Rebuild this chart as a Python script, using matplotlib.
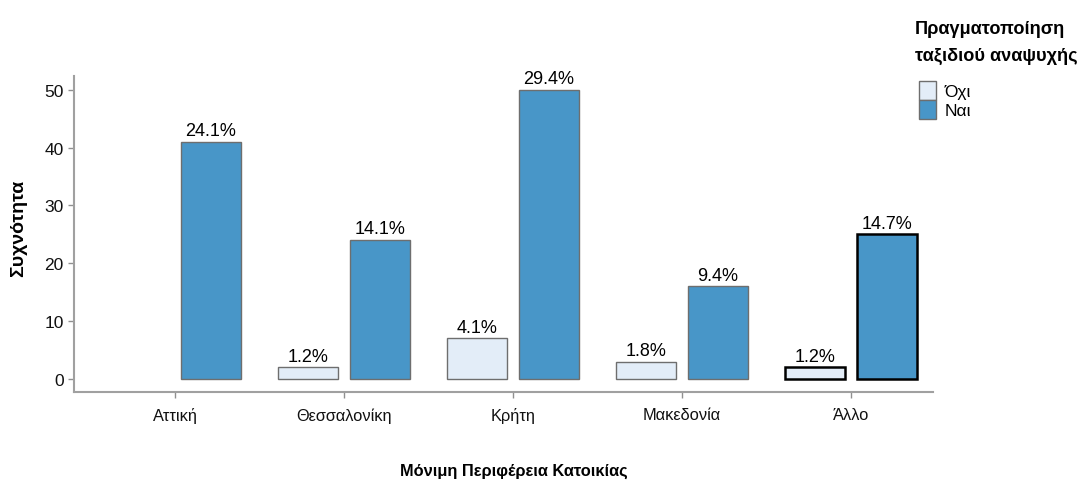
import matplotlib
matplotlib.use("Agg")
import matplotlib.pyplot as plt
from matplotlib.patches import Patch
import numpy as np

plt.rcParams['font.family'] = ['Liberation Sans Narrow', 'Liberation Sans', 'DejaVu Sans']

categories = ["Αττική", "Θεσσαλονίκη", "Κρήτη", "Μακεδονία", "Άλλο"]
series_names = ["Όχι", "Ναι"]
counts_ochi = [0, 2, 7, 3, 2]
counts_nai = [41, 24, 50, 16, 25]
labels_ochi = ["", "1.2%", "4.1%", "1.8%", "1.2%"]
labels_nai = ["24.1%", "14.1%", "29.4%", "9.4%", "14.7%"]
yticks = [0, 10, 20, 30, 40, 50]
legend_title = ["Πραγματοποίηση", "ταξιδιού αναψυχής"]

col_ochi = "#e3edf8"
col_nai = "#4896c8"

fig = plt.figure(figsize=(10.83, 4.81), dpi=100)
ax = fig.add_axes([0.0683, 0.183, 0.7932, 0.657])

x = np.arange(len(categories))
w = 0.355
off = 0.213
edge_cols = ["#6e6e6e"] * 4 + ["#000000"]
edge_w = [1.0] * 4 + [1.8]

for i in range(len(categories)):
    if counts_ochi[i] > 0:
        ax.bar(x[i] - off, counts_ochi[i], w, color=col_ochi, edgecolor=edge_cols[i], linewidth=edge_w[i])
        ax.text(x[i] - off, counts_ochi[i] + 0.5, labels_ochi[i], ha="center", va="bottom", fontsize=13)
    ax.bar(x[i] + off, counts_nai[i], w, color=col_nai, edgecolor=edge_cols[i], linewidth=edge_w[i])
    ax.text(x[i] + off, counts_nai[i] + 0.5, labels_nai[i], ha="center", va="bottom", fontsize=13)

ax.set_xlim(-0.598, 4.485)
ax.set_ylim(-2.25, 52.4)
ax.set_xticks(x)
ax.set_xticklabels(categories, fontsize=11.8)
ax.set_yticks(yticks)
ax.set_yticklabels([str(v) for v in yticks], fontsize=12.5)
for s in ["top", "right"]:
    ax.spines[s].set_visible(False)
for s in ["left", "bottom"]:
    ax.spines[s].set_color("#a0a0a0")
    ax.spines[s].set_linewidth(1.5)
ax.tick_params(axis="both", colors="#909090", labelcolor="#111111", length=4, width=1)
ax.tick_params(axis="x", pad=7)

fig.text(19 / 1083, 1 - 228 / 481, "Συχνότητα", rotation=90, ha="center", va="center",
         fontsize=14, fontweight="bold")
fig.text(514 / 1083, 1 - 476 / 481, "Μόνιμη Περιφέρεια Κατοικίας", ha="center", va="baseline",
         fontsize=11.8, fontweight="bold")

fig.text(915 / 1083, 1 - 34 / 481, legend_title[0], ha="left", va="baseline",
         fontsize=13.1, fontweight="bold")
fig.text(915 / 1083, 1 - 61 / 481, legend_title[1], ha="left", va="baseline",
         fontsize=13.1, fontweight="bold")

handles = [Patch(facecolor=col_ochi, edgecolor="#6e6e6e"), Patch(facecolor=col_nai, edgecolor="#6e6e6e")]
leg = fig.legend(handles, series_names, loc="upper left", bbox_to_anchor=(919 / 1083, 1 - 82 / 481),
                 frameon=False, fontsize=12.5, borderpad=0, borderaxespad=0,
                 handlelength=1.0, handleheight=1.3, handletextpad=0.45, labelspacing=0.0)

fig.savefig("out.png", dpi=100)
